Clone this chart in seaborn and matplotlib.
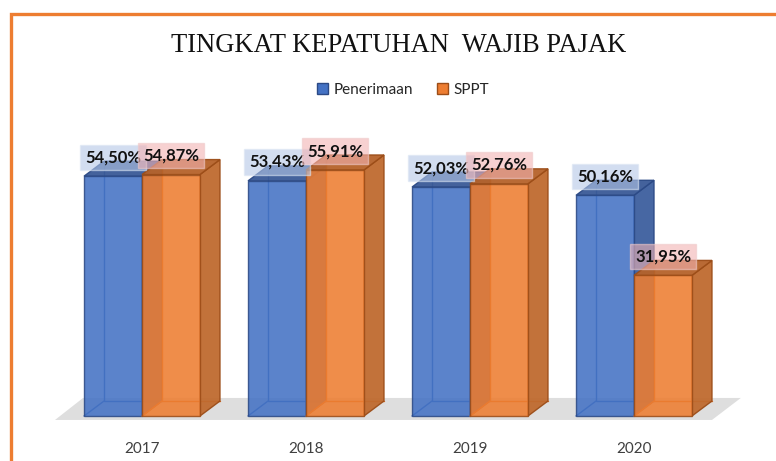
import numpy as np
import pandas as pd
import matplotlib
matplotlib.use("Agg")
import matplotlib.pyplot as plt
from matplotlib.patches import Polygon, Rectangle, Patch
import seaborn as sns

# ---- data ----
years = ["2017", "2018", "2019", "2020"]
penerimaan = [54.50, 53.43, 52.03, 50.16]
sppt = [54.87, 55.91, 52.76, 31.95]
series_names = ["Penerimaan", "SPPT"]
title = "TINGKAT KEPATUHAN  WAJIB PAJAK"

df = pd.DataFrame({
    "Tahun": years * 2,
    "Nilai": penerimaan + sppt,
    "Seri": [series_names[0]] * len(years) + [series_names[1]] * len(years),
})

sns.set_theme(style="white")
plt.rcParams["font.family"] = ["Lato", "DejaVu Sans"]

W, H = 776, 461
fig = plt.figure(figsize=(W / 100, H / 100), dpi=100)

# axes geometry: group spacing 164 px, zero line at y=416 px, 4.4 px per unit
x_lo, x_hi = -0.55, 3.75
y_lo, y_hi = -3.0, 70.0
px_unit_x, px_unit_y = 164.0, 4.4
left_px = 142 - 0.55 * px_unit_x
bottom_px = 416 + (-y_lo) * px_unit_y
ax = fig.add_axes([left_px / W, (H - bottom_px) / H,
                   (x_hi - x_lo) * px_unit_x / W, (y_hi - y_lo) * px_unit_y / H])

front_cols = {"Penerimaan": "#4472C4", "SPPT": "#ED7D31"}
side_cols = {"Penerimaan": "#3d5f9e", "SPPT": "#bf6a2f"}
top_cols = {"Penerimaan": "#3a5a97", "SPPT": "#b5622a"}
edge_cols = {"Penerimaan": "#2c4a86", "SPPT": "#9c4d18"}
inner_cols = {"Penerimaan": "#3b64b0", "SPPT": "#d86e28"}

sns.barplot(data=df, x="Tahun", y="Nilai", hue="Seri", palette=front_cols,
            width=0.707, saturation=1, gap=0, legend=False, ax=ax, zorder=3)

ax.set_xlim(x_lo, x_hi)
ax.set_ylim(y_lo, y_hi)
for s in ax.spines.values():
    s.set_visible(False)
ax.set_yticks([])
ax.set_xlabel("")
ax.set_ylabel("")
ax.tick_params(axis="x", length=0, pad=9, labelsize=11, labelcolor="#404040")
ax.grid(False)

dx = 20 / px_unit_x
dy = 15 / px_unit_y

bars = list(ax.patches)
n = len(years)
xs0 = [b.get_x() for b in bars]
xs1 = [b.get_x() + b.get_width() for b in bars]

# floor
fl = min(xs0)
fr = max(xs1)
floor = Polygon([(fl - 0.177, -0.9), (fr + 0.122, -0.9),
                 (fr + 0.122 + 0.176, 4.1), (fl - 0.006, 4.1)],
                closed=True, facecolor="#dedede", edgecolor="none", zorder=1)
ax.add_patch(floor)

for i, b in enumerate(bars):
    name = series_names[i // n]
    base_z = 2 + 3 * (i // n)
    x0 = b.get_x()
    w = b.get_width()
    h = b.get_height()
    x1 = x0 + w
    # hidden back edges (seen through)
    ax.plot([x0 + dx, x0 + dx, x1 + dx], [h + dy, dy, dy], color=inner_cols[name],
            lw=1.0, zorder=base_z)
    ax.plot([x0, x0 + dx], [0, dy], color=inner_cols[name], lw=1.0, zorder=base_z)
    side = Polygon([(x1, 0), (x1 + dx, dy), (x1 + dx, h + dy), (x1, h)], closed=True,
                   facecolor=side_cols[name], edgecolor=edge_cols[name], lw=1.0,
                   alpha=0.95, zorder=base_z + 0.5)
    top = Polygon([(x0, h), (x0 + dx, h + dy), (x1 + dx, h + dy), (x1, h)], closed=True,
                  facecolor=top_cols[name], edgecolor=edge_cols[name], lw=1.0,
                  alpha=0.95, zorder=base_z + 0.6)
    ax.add_patch(side)
    ax.add_patch(top)
    b.set_alpha(0.88)
    b.set_edgecolor(edge_cols[name])
    b.set_linewidth(1.0)
    b.set_zorder(base_z + 1)

# data labels
label_box = {"Penerimaan": ("#b4c7e7", "#dbe5f3"), "SPPT": ("#f2b3b3", "#efc9c9")}
for i, b in enumerate(bars):
    name = series_names[i // n]
    h = b.get_height()
    xc = b.get_x() + b.get_width() / 2
    txt = f"{h:.2f}%".replace(".", ",")
    fc, ec = label_box[name]
    ax.text(xc, h + 4.3, txt, ha="center", va="center", fontsize=12,
            fontweight="bold", color="#111111", zorder=20,
            bbox=dict(boxstyle="square,pad=0.28", facecolor=fc, edgecolor=ec,
                      alpha=0.6, lw=1.0))

# title
fig.text(399 / W, 1 - 45.5 / H, title, ha="center", va="center",
         fontsize=19.1, family=["Liberation Serif", "DejaVu Serif"], color="#111111")

# legend
handles = [Patch(facecolor=front_cols[s], edgecolor=edge_cols[s], lw=1.0, label=s)
           for s in series_names]
fig.legend(handles=handles, loc="center", bbox_to_anchor=(403 / W, 1 - 90 / H),
           ncol=2, frameon=False, fontsize=11, handlelength=0.7, handleheight=0.7,
           handletextpad=0.35, columnspacing=1.6, labelcolor="#262626")

# orange border
border = Rectangle((10.5 / W, -0.1), 1.2, (1 - 13.5 / H) + 0.1, transform=fig.transFigure,
                   fill=False, edgecolor="#ED7D31", lw=2.4, clip_on=False)
fig.add_artist(border)

fig.savefig("out.png", dpi=100)
